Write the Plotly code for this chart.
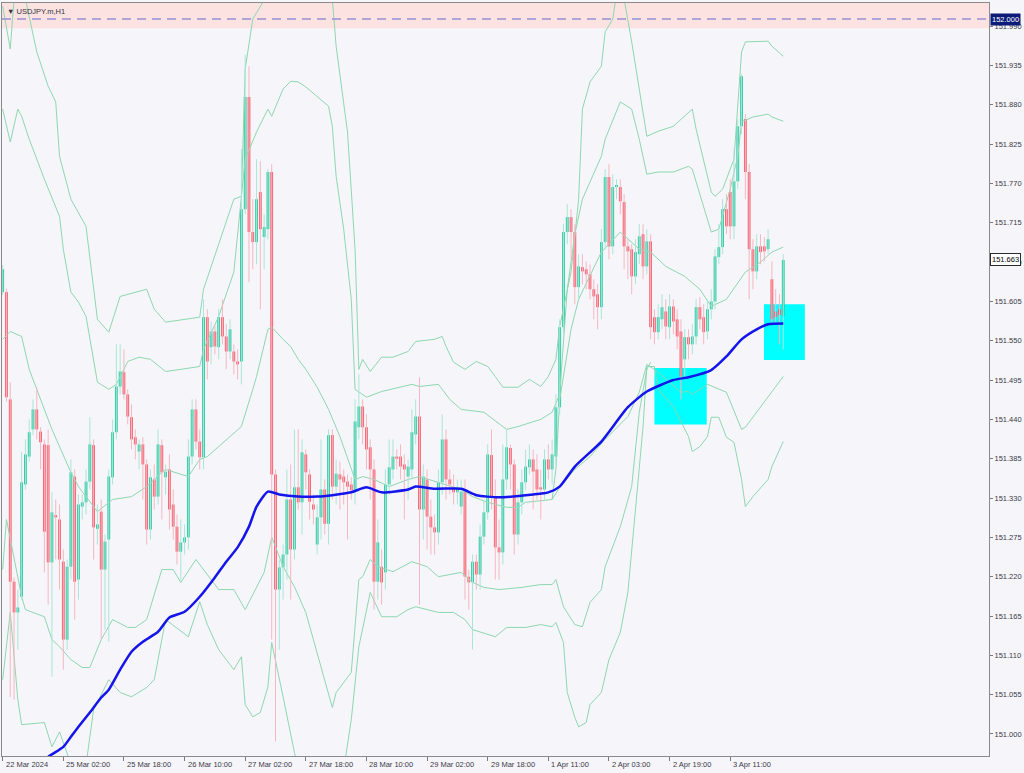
import plotly.graph_objects as go

# USDJPY.m H1 candles (bar 0 = 22 Mar 2024 10:00)
opens = [
    151.618, 151.618, 151.468, 151.213, 151.170, 151.192, 151.349, 151.388, 151.426, 151.454,
    151.423, 151.405, 151.404, 151.240, 151.306, 151.300, 151.241, 151.132, 151.234, 151.360,
    151.216, 151.318, 151.324, 151.353, 151.404, 151.287, 151.311, 151.230, 151.272, 151.359,
    151.422, 151.486, 151.506, 151.475, 151.443, 151.415, 151.395, 151.405, 151.377, 151.286,
    151.356, 151.332, 151.404, 151.359, 151.370, 151.321, 151.290, 151.255, 151.268, 151.275,
    151.388, 151.454, 151.409, 151.387, 151.583, 151.541, 151.563, 151.541, 151.583, 151.556,
    151.535, 151.535, 151.521, 151.521, 151.734, 151.891, 151.702, 151.688, 151.758, 151.695,
    151.706, 151.786, 151.363, 151.202, 151.233, 151.251, 151.328, 151.258, 151.345, 151.324,
    151.391, 151.363, 151.321, 151.265, 151.303, 151.342, 151.294, 151.418, 151.346, 151.363,
    151.360, 151.353, 151.349, 151.339, 151.429, 151.458, 151.429, 151.401, 151.370, 151.213,
    151.234, 151.226, 151.349, 151.370, 151.388, 151.388, 151.377, 151.360, 151.370, 151.419,
    151.444, 151.314, 151.356, 151.304, 151.289, 151.282, 151.352, 151.412, 151.356, 151.345,
    151.338, 151.318, 151.342, 151.220, 151.212, 151.241, 151.223, 151.276, 151.310, 151.390,
    151.332, 151.261, 151.254, 151.356, 151.400, 151.377, 151.279, 151.324, 151.352, 151.373,
    151.384, 151.370, 151.345, 151.342, 151.384, 151.370, 151.388, 151.457, 151.569, 151.702,
    151.723, 151.702, 151.625, 151.653, 151.650, 151.643, 151.622, 151.615, 151.597, 151.688,
    151.779, 151.682, 151.765, 151.765, 151.744, 151.682, 151.678, 151.640, 151.671, 151.699,
    151.654, 151.689, 151.583, 151.562, 151.580, 151.591, 151.569, 151.598, 151.580, 151.563,
    151.524, 151.555, 151.545, 151.556, 151.597, 151.583, 151.563, 151.594, 151.605, 151.667,
    151.681, 151.734, 151.758, 151.710, 151.773, 151.850, 151.860, 151.786, 151.678, 151.647,
    151.682, 151.682, 151.678, 151.636, 151.591, 151.594, 151.584,
]
highs = [
    151.656, 151.623, 151.492, 151.219, 151.202, 151.395, 151.412, 151.440, 151.468, 151.485,
    151.429, 151.412, 151.426, 151.338, 151.328, 151.321, 151.258, 151.244, 151.384, 151.370,
    151.335, 151.335, 151.370, 151.443, 151.412, 151.321, 151.328, 151.279, 151.370, 151.440,
    151.545, 151.545, 151.538, 151.482, 151.461, 151.426, 151.412, 151.415, 151.384, 151.370,
    151.377, 151.426, 151.412, 151.377, 151.391, 151.342, 151.307, 151.300, 151.293, 151.412,
    151.468, 151.468, 151.426, 151.608, 151.594, 151.577, 151.573, 151.594, 151.608, 151.573,
    151.580, 151.545, 151.538, 151.818, 151.950, 151.934, 151.748, 151.804, 151.801, 151.727,
    151.790, 151.797, 151.370, 151.244, 151.265, 151.370, 151.377, 151.426, 151.426, 151.412,
    151.398, 151.370, 151.335, 151.321, 151.412, 151.356, 151.426, 151.426, 151.384, 151.381,
    151.370, 151.363, 151.359, 151.468, 151.503, 151.468, 151.447, 151.412, 151.384, 151.300,
    151.258, 151.370, 151.412, 151.412, 151.398, 151.405, 151.391, 151.384, 151.454, 151.468,
    151.499, 151.377, 151.370, 151.328, 151.307, 151.370, 151.447, 151.426, 151.370, 151.363,
    151.356, 151.356, 151.356, 151.230, 151.251, 151.251, 151.293, 151.328, 151.405, 151.426,
    151.356, 151.300, 151.405, 151.426, 151.405, 151.384, 151.342, 151.370, 151.398, 151.405,
    151.398, 151.391, 151.370, 151.398, 151.405, 151.412, 151.475, 151.580, 151.713, 151.741,
    151.734, 151.713, 151.671, 151.671, 151.661, 151.657, 151.636, 151.629, 151.706, 151.790,
    151.797, 151.783, 151.776, 151.776, 151.755, 151.692, 151.685, 151.692, 151.713, 151.713,
    151.706, 151.699, 151.594, 151.601, 151.615, 151.608, 151.615, 151.608, 151.594, 151.580,
    151.566, 151.566, 151.573, 151.608, 151.611, 151.601, 151.608, 151.622, 151.678, 151.713,
    151.748, 151.755, 151.776, 151.818, 151.860, 151.923, 151.867, 151.797, 151.692, 151.699,
    151.699, 151.695, 151.706, 151.661, 151.622, 151.615, 151.671,
]
lows = [
    151.614, 151.465, 151.052, 151.048, 151.118, 151.188, 151.342, 151.381, 151.418, 151.412,
    151.370, 151.226, 151.181, 151.080, 151.244, 151.202, 151.090, 151.118, 151.216, 151.160,
    151.188, 151.300, 151.307, 151.342, 151.244, 151.265, 151.132, 151.146, 151.129, 151.349,
    151.412, 151.475, 151.468, 151.433, 151.398, 151.384, 151.370, 151.328, 151.265, 151.272,
    151.314, 151.321, 151.300, 151.335, 151.286, 151.272, 151.237, 151.216, 151.251, 151.258,
    151.377, 151.398, 151.370, 151.370, 151.496, 151.517, 151.531, 151.524, 151.545, 151.510,
    151.524, 151.503, 151.496, 151.489, 151.727, 151.632, 151.650, 151.657, 151.594, 151.650,
    151.692, 151.132, 150.990, 151.118, 151.188, 151.216, 151.188, 151.244, 151.314, 151.279,
    151.342, 151.300, 151.293, 151.251, 151.272, 151.279, 151.265, 151.328, 151.321, 151.314,
    151.321, 151.272, 151.328, 151.321, 151.412, 151.405, 151.370, 151.328, 151.174, 151.188,
    151.181, 151.202, 151.335, 151.356, 151.370, 151.356, 151.300, 151.328, 151.356, 151.405,
    151.181, 151.272, 151.258, 151.251, 151.251, 151.265, 151.335, 151.328, 151.335, 151.321,
    151.321, 151.307, 151.188, 151.174, 151.118, 151.202, 151.202, 151.265, 151.300, 151.314,
    151.216, 151.216, 151.237, 151.342, 151.342, 151.251, 151.265, 151.307, 151.342, 151.363,
    151.314, 151.328, 151.300, 151.328, 151.356, 151.349, 151.377, 151.447, 151.559, 151.685,
    151.664, 151.601, 151.608, 151.629, 151.622, 151.608, 151.580, 151.566, 151.580, 151.678,
    151.664, 151.671, 151.748, 151.727, 151.650, 151.636, 151.615, 151.629, 151.657, 151.636,
    151.643, 151.552, 151.545, 151.552, 151.566, 151.552, 151.552, 151.559, 151.538, 151.468,
    151.496, 151.524, 151.531, 151.545, 151.566, 151.545, 151.552, 151.580, 151.594, 151.657,
    151.671, 151.699, 151.692, 151.692, 151.762, 151.839, 151.748, 151.608, 151.622, 151.636,
    151.657, 151.661, 151.671, 151.573, 151.573, 151.545, 151.538,
]
closes = [
    151.650, 151.471, 151.213, 151.170, 151.177, 151.352, 151.391, 151.422, 151.454, 151.426,
    151.408, 151.283, 151.240, 151.310, 151.303, 151.244, 151.132, 151.234, 151.366, 151.213,
    151.321, 151.324, 151.353, 151.405, 151.289, 151.293, 151.230, 151.269, 151.360, 151.422,
    151.486, 151.507, 151.475, 151.444, 151.412, 151.405, 151.405, 151.377, 151.286, 151.359,
    151.332, 151.405, 151.366, 151.367, 151.314, 151.290, 151.255, 151.268, 151.275, 151.388,
    151.454, 151.409, 151.387, 151.583, 151.521, 151.563, 151.542, 151.583, 151.556, 151.535,
    151.566, 151.521, 151.517, 151.734, 151.891, 151.702, 151.688, 151.748, 151.706, 151.709,
    151.786, 151.363, 151.202, 151.233, 151.251, 151.328, 151.258, 151.345, 151.324, 151.394,
    151.366, 151.325, 151.314, 151.303, 151.342, 151.294, 151.418, 151.346, 151.364, 151.356,
    151.352, 151.346, 151.341, 151.437, 151.458, 151.429, 151.398, 151.370, 151.213, 151.268,
    151.212, 151.349, 151.373, 151.388, 151.385, 151.374, 151.370, 151.374, 151.422, 151.444,
    151.314, 151.360, 151.304, 151.289, 151.282, 151.352, 151.412, 151.356, 151.349, 151.338,
    151.345, 151.339, 151.220, 151.212, 151.241, 151.223, 151.276, 151.310, 151.391, 151.332,
    151.261, 151.254, 151.356, 151.401, 151.377, 151.279, 151.324, 151.352, 151.374, 151.384,
    151.367, 151.342, 151.342, 151.384, 151.370, 151.391, 151.457, 151.569, 151.702, 151.723,
    151.702, 151.625, 151.654, 151.647, 151.643, 151.622, 151.612, 151.597, 151.688, 151.779,
    151.682, 151.765, 151.768, 151.745, 151.682, 151.675, 151.640, 151.674, 151.696, 151.654,
    151.689, 151.569, 151.562, 151.583, 151.597, 151.570, 151.598, 151.577, 151.556, 151.500,
    151.555, 151.545, 151.556, 151.597, 151.580, 151.562, 151.594, 151.605, 151.668, 151.681,
    151.734, 151.710, 151.710, 151.773, 151.850, 151.920, 151.786, 151.678, 151.647, 151.682,
    151.674, 151.675, 151.692, 151.580, 151.583, 151.586, 151.663,
]

# band lines (bar index, price)
band_up3_x = [0, 2, 3, 5, 6, 9, 12, 14, 15, 18, 22, 25, 28, 31, 38, 40, 43, 52, 53, 61,
              63, 64, 66, 68, 70, 76, 85, 87, 88, 91, 93, 94, 95, 97, 100, 103, 107, 109, 114, 116,
              117, 119, 122, 125, 128, 130, 132, 136, 139, 142, 144, 146, 147, 150, 152, 153, 155, 158, 159, 161,
              162, 164, 166, 170, 173, 177, 181, 182, 183, 187, 188, 190, 193, 195, 196, 202, 203, 206]
band_up3_y = [152.018, 151.958, 152.028, 152.063, 152.028, 151.954, 151.906, 151.884, 151.808, 151.748,
              151.710, 151.580, 151.562, 151.612, 151.622, 151.594, 151.576, 151.583, 151.622, 151.748,
              151.752, 151.930, 152.000, 152.018, 152.035, 152.140, 152.084, 152.028, 151.962, 151.842,
              151.678, 151.510, 151.524, 151.507, 151.527, 151.527, 151.535, 151.549, 151.552, 151.556,
              151.542, 151.520, 151.510, 151.521, 151.514, 151.500, 151.485, 151.485, 151.496, 151.486,
              151.500, 151.524, 151.570, 151.646, 151.748, 151.874, 151.912, 151.934, 151.982, 152.000,
              152.035, 152.028, 151.968, 151.836, 151.843, 151.850, 151.870, 151.874, 151.846, 151.758,
              151.752, 151.762, 151.804, 151.954, 151.968, 151.969, 151.962, 151.948]
band_up2_x = [0, 2, 4, 5, 7, 11, 15, 16, 18, 20, 22, 25, 28, 30, 33, 36, 39, 43, 47, 52,
              53, 57, 61, 64, 67, 70, 71, 74, 76, 78, 80, 83, 86, 87, 88, 90, 92, 93, 96, 100,
              105, 108, 110, 115, 118, 121, 127, 133, 136, 142, 145, 147, 149, 151, 153, 158, 159, 163, 166, 168,
              170, 173, 177, 181, 182, 185, 187, 189, 192, 194, 195, 198, 202, 203, 206]
band_up2_y = [151.874, 151.828, 151.874, 151.864, 151.832, 151.776, 151.724, 151.678, 151.618, 151.604,
              151.584, 151.492, 151.482, 151.489, 151.521, 151.527, 151.524, 151.507, 151.510, 151.514,
              151.538, 151.584, 151.646, 151.804, 151.842, 151.874, 151.864, 151.902, 151.913, 151.912,
              151.905, 151.892, 151.878, 151.850, 151.780, 151.706, 151.608, 151.482, 151.471, 151.479,
              151.485, 151.489, 151.486, 151.489, 151.468, 151.454, 151.450, 151.426, 151.430, 151.440,
              151.450, 151.475, 151.622, 151.699, 151.748, 151.808, 151.832, 151.884, 151.874, 151.832,
              151.783, 151.786, 151.786, 151.794, 151.790, 151.738, 151.702, 151.706, 151.762, 151.808,
              151.856, 151.863, 151.867, 151.863, 151.857]
band_mid_x = [0, 2, 5, 7, 9, 13, 18, 20, 25, 29, 34, 38, 42, 43, 49, 52, 54, 59, 63, 66,
              67, 70, 71, 74, 76, 78, 80, 83, 86, 89, 92, 93, 95, 98, 102, 107, 110, 115, 121, 124,
              128, 133, 136, 138, 144, 145, 147, 151, 155, 159, 165, 168, 170, 173, 179, 181, 182, 186, 191, 195,
              196, 203, 206]
band_mid_y = [151.552, 151.563, 151.556, 151.510, 151.482, 151.426, 151.366, 151.346, 151.311, 151.328,
              151.332, 151.346, 151.366, 151.370, 151.360, 151.384, 151.388, 151.412, 151.430, 151.482,
              151.500, 151.566, 151.569, 151.552, 151.542, 151.524, 151.510, 151.485, 151.454, 151.416,
              151.370, 151.356, 151.360, 151.356, 151.346, 151.356, 151.360, 151.352, 151.342, 151.332,
              151.324, 151.317, 151.317, 151.324, 151.328, 151.328, 151.345, 151.370, 151.388, 151.412,
              151.444, 151.478, 151.517, 151.506, 151.478, 151.479, 151.475, 151.489, 151.478, 151.426,
              151.429, 151.478, 151.500]
band_up1_x = [145, 146, 147, 150, 152, 158, 163, 168, 171, 175, 180, 184, 187, 191, 196, 200, 203, 206]
band_up1_y = [151.328, 151.370, 151.468, 151.566, 151.608, 151.674, 151.702, 151.678, 151.674, 151.654,
              151.640, 151.622, 151.598, 151.608, 151.646, 151.660, 151.674, 151.681]
band_dn2_x = [0, 1, 5, 6, 11, 13, 15, 18, 21, 23, 26, 29, 33, 35, 38, 42, 45, 47, 51, 53,
              57, 61, 64, 69, 71, 72, 74, 77, 80, 84, 87, 88, 92, 94, 95, 97, 99, 103, 108, 112,
              115, 121, 124, 127, 131, 137, 142, 145, 146, 148, 151, 153, 155, 158, 159, 163, 166, 168, 170, 171]
band_dn2_y = [151.230, 151.300, 151.192, 151.174, 151.164, 151.132, 151.122, 151.104, 151.093, 151.093,
              151.132, 151.160, 151.149, 151.149, 151.160, 151.230, 151.230, 151.212, 151.244, 151.230,
              151.202, 151.202, 151.174, 151.226, 151.275, 151.262, 151.234, 151.206, 151.170, 151.094,
              151.037, 151.058, 151.086, 151.216, 151.220, 151.244, 151.234, 151.227, 151.241, 151.234,
              151.220, 151.226, 151.212, 151.205, 151.202, 151.205, 151.209, 151.209, 151.216, 151.178,
              151.153, 151.150, 151.184, 151.202, 151.234, 151.290, 151.346, 151.450, 151.510, 151.520]
band_dn3_x = [0, 2, 4, 5, 11, 13, 15, 16, 19, 22, 24, 26, 28, 31, 34, 38, 40, 43, 49, 52,
              54, 57, 61, 63, 64, 66, 68, 70, 71, 74, 77, 80, 86, 90, 92, 94, 97, 100, 104, 107,
              109, 112, 115, 119, 122, 124, 130, 133, 138, 142, 145, 146, 148, 149, 151, 152, 154, 155, 158, 160,
              163, 165, 167, 169, 170, 172, 173, 177, 181, 182, 184, 186, 187, 189, 191, 193, 195, 196, 198, 202,
              203, 205, 206]
band_dn3_y = [151.076, 151.170, 151.048, 151.013, 151.016, 150.982, 151.003, 150.988, 150.943, 150.957,
              151.034, 151.055, 151.076, 151.058, 151.052, 151.065, 151.076, 151.160, 151.136, 151.185,
              151.153, 151.118, 151.090, 151.108, 151.041, 151.024, 151.030, 151.066, 151.128, 151.052,
              150.974, 150.908, 150.894, 150.950, 151.020, 151.122, 151.198, 151.164, 151.164, 151.174,
              151.178, 151.174, 151.170, 151.170, 151.160, 151.146, 151.136, 151.149, 151.149, 151.153,
              151.150, 151.156, 151.128, 151.058, 151.023, 151.010, 151.016, 151.041, 151.058, 151.104,
              151.142, 151.198, 151.314, 151.430, 151.514, 151.514, 151.482, 151.458, 151.416, 151.395,
              151.402, 151.416, 151.443, 151.443, 151.415, 151.408, 151.356, 151.318, 151.332, 151.356,
              151.374, 151.398, 151.409]

# long moving average (blue)
ma_x = [11, 12, 16, 18, 20, 23, 26, 28, 31, 34, 37, 41, 44, 48, 52, 56, 59, 62, 65, 67,
        70, 73, 78, 83, 87, 92, 96, 100, 107, 109, 114, 121, 125, 131, 140, 144, 147, 151, 158, 165,
        170, 177, 181, 187, 191, 195, 199, 202, 206]
ma_y = [150.961, 150.968, 150.982, 150.996, 151.010, 151.030, 151.051, 151.062, 151.090, 151.115,
        151.129, 151.143, 151.163, 151.171, 151.192, 151.219, 151.241, 151.261, 151.290, 151.318,
        151.339, 151.335, 151.332, 151.332, 151.334, 151.338, 151.345, 151.338, 151.342, 151.346,
        151.343, 151.343, 151.334, 151.331, 151.335, 151.338, 151.346, 151.374, 151.409, 151.457,
        151.479, 151.495, 151.499, 151.509, 151.528, 151.552, 151.566, 151.573, 151.574]

x_tick_bars = [0, 16, 32, 48, 64, 80, 96, 112, 128, 144, 160, 176, 192]
x_tick_labels = ["22 Mar 2024", "25 Mar 02:00", "25 Mar 18:00", "26 Mar 10:00", "27 Mar 02:00",
                 "27 Mar 18:00", "28 Mar 10:00", "29 Mar 02:00", "29 Mar 18:00", "1 Apr 11:00",
                 "2 Apr 03:00", "2 Apr 19:00", "3 Apr 11:00"]
y_ticks = [151.000, 151.055, 151.110, 151.165, 151.220, 151.275, 151.330, 151.385, 151.440, 151.495,
           151.550, 151.605, 151.660, 151.715, 151.770, 151.825, 151.880, 151.935, 151.990]

alert_level = 152.000
alert_zone = (151.987, 152.03)
last_price = 151.663
zone_a = (172.0, 185.8, 151.433, 151.512)
zone_b = (200.9, 211.7, 151.523, 151.601)

UP, DN = "#2BCAA3", "#F5606F"
UP_WICK, DN_WICK = "#A9E6D7", "#F7B7C0"
BAND = "#8ED7B0"
BG = "#F6F5FA"
FONT = "Liberation Sans"

bars = list(range(len(closes)))
up = [i for i in bars if closes[i] >= opens[i]]
dn = [i for i in bars if closes[i] < opens[i]]


def wicks(idx):
    xs, ys = [], []
    for i in idx:
        xs += [i, i, None]
        ys += [lows[i], highs[i], None]
    return xs, ys


fig = go.Figure()

for bx, by in [(band_up3_x, band_up3_y), (band_up2_x, band_up2_y), (band_mid_x, band_mid_y),
               (band_up1_x, band_up1_y), (band_dn2_x, band_dn2_y), (band_dn3_x, band_dn3_y)]:
    fig.add_trace(go.Scatter(x=bx, y=by, mode="lines", line=dict(color=BAND, width=1),
                             hoverinfo="skip"))

for idx, col in [(up, UP_WICK), (dn, DN_WICK)]:
    wx, wy = wicks(idx)
    fig.add_trace(go.Scatter(x=wx, y=wy, mode="lines", line=dict(color=col, width=1),
                             hoverinfo="skip"))

fig.add_trace(go.Bar(x=up, base=[opens[i] for i in up],
                     y=[max(closes[i] - opens[i], 0.0012) for i in up],
                     width=0.74, marker=dict(color=UP, line=dict(width=0))))
fig.add_trace(go.Bar(x=dn, base=[closes[i] for i in dn],
                     y=[max(opens[i] - closes[i], 0.0012) for i in dn],
                     width=0.74, marker=dict(color=DN, line=dict(width=0))))

fig.add_trace(go.Scatter(x=ma_x, y=ma_y, mode="lines",
                         line=dict(color="#1414EC", width=2.5, shape="spline", smoothing=0.6),
                         hoverinfo="skip"))

shapes = [
    dict(type="rect", xref="paper", yref="y", x0=0, x1=1, y0=alert_zone[0], y1=alert_zone[1],
         fillcolor="#FDE2E2", line=dict(width=0), layer="below"),
    dict(type="line", xref="paper", yref="y", x0=0, x1=1, y0=alert_level, y1=alert_level,
         line=dict(color="#9393D3", width=1.5, dash="9px,6px")),
]
for z in (zone_a, zone_b):
    shapes.append(dict(type="rect", xref="x", yref="y", x0=z[0], x1=z[1], y0=z[2], y1=z[3],
                       fillcolor="#00FFFF", line=dict(width=0), layer="below"))

annotations = [
    dict(x=b, xref="x", y=0, yref="paper", yanchor="top", xanchor="left", yshift=-2, xshift=1,
         text=t, showarrow=False, font=dict(family=FONT, size=7.5, color="#3a3a48"))
    for b, t in zip(x_tick_bars, x_tick_labels)
]
annotations += [
    dict(x=1, xref="paper", y=alert_level, yref="y", xanchor="left", xshift=1, text=f"{alert_level:.3f}",
         showarrow=False, bgcolor="#0C1A78", borderpad=1,
         font=dict(family=FONT, size=7.5, color="white")),
    dict(x=1, xref="paper", y=last_price, yref="y", xanchor="left", xshift=1, text=f"{last_price:.3f}",
         showarrow=False, bgcolor="white", bordercolor="#2a2a2a", borderwidth=1, borderpad=1,
         font=dict(family=FONT, size=7.5, color="black")),
    dict(x=0, xref="paper", y=1, yref="paper", xanchor="left", yanchor="top", xshift=3, yshift=-2,
         text="▼ USDJPY.m,H1", showarrow=False, font=dict(family=FONT, size=7.5, color="#333340")),
]

fig.update_layout(
    width=1024, height=773,
    margin=dict(l=2, r=35, t=3, b=17),
    paper_bgcolor=BG, plot_bgcolor=BG,
    showlegend=False, barmode="overlay",
    shapes=shapes, annotations=annotations,
    xaxis=dict(range=[-0.18, 260.3], showgrid=False, zeroline=False,
               tickvals=x_tick_bars, showticklabels=False, ticks="outside", ticklen=4,
               tickcolor="#7a7a7a", showline=True, linecolor="#8a8a8a", mirror=True),
    yaxis=dict(side="right", range=[150.9692, 152.0224], showgrid=False, zeroline=False,
               tickvals=y_ticks, ticktext=[f"{v:.3f}" for v in y_ticks],
               ticks="outside", ticklen=3, tickcolor="#7a7a7a",
               tickfont=dict(family=FONT, size=7.5, color="#3a3a48"),
               showline=True, linecolor="#8a8a8a", mirror=True),
)

# drop the browser's default body margin so the figure sits at the window's corner
fig.write_html("out.html", config={"displayModeBar": False},
               post_script="document.body.style.margin='0';document.body.style.overflow='hidden';")
